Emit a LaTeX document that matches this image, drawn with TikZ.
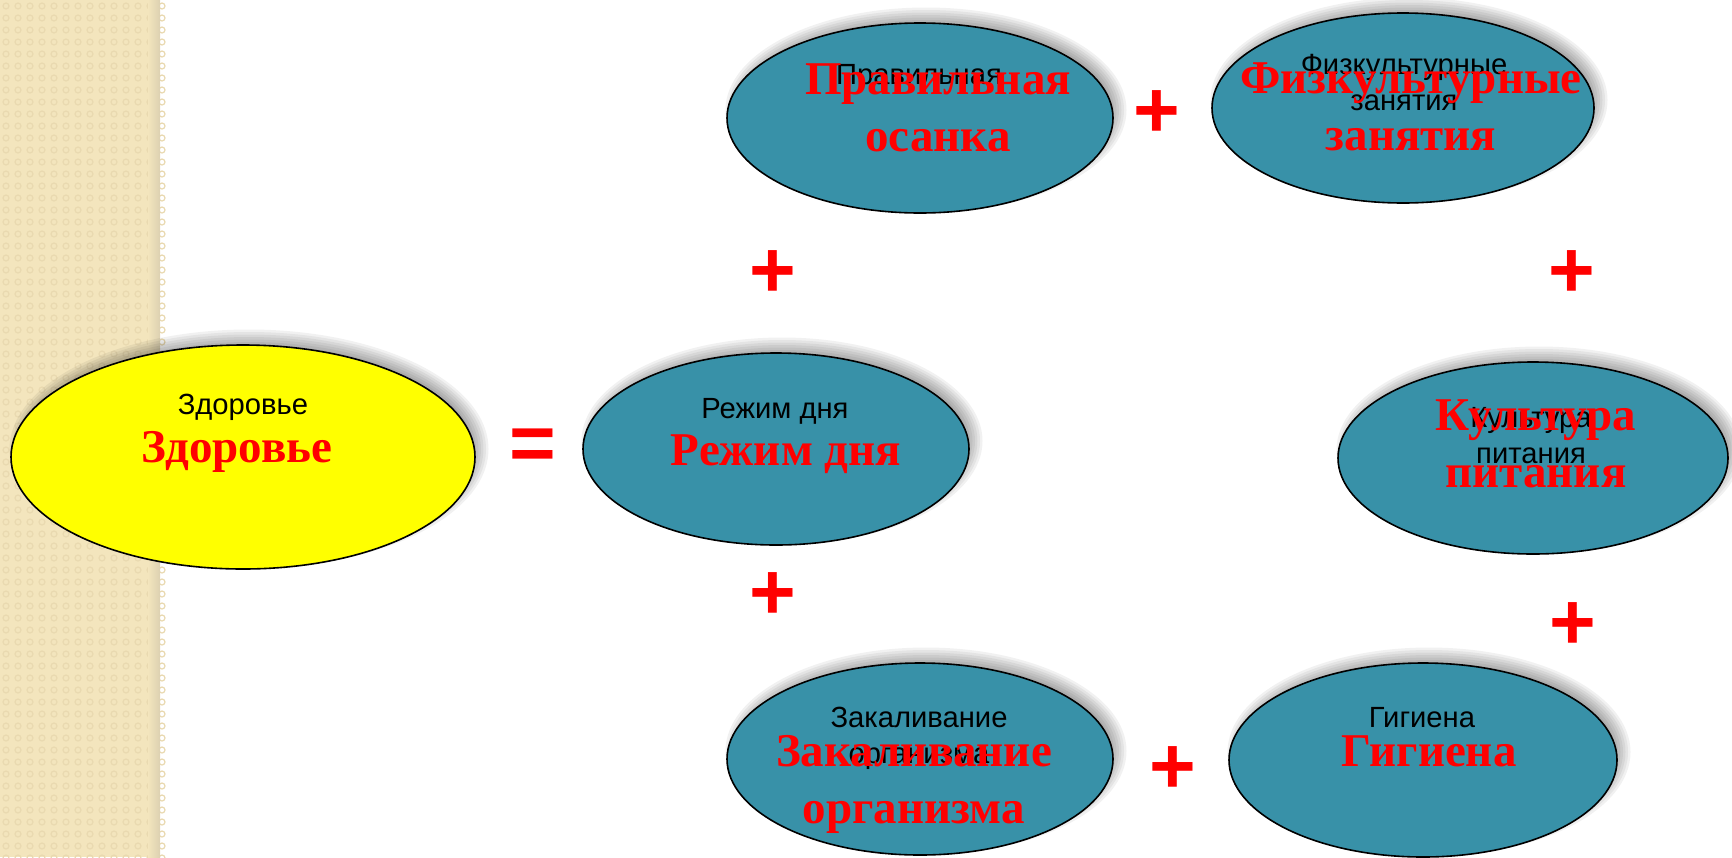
\documentclass[tikz,border=0pt]{standalone}
\usepackage{fontspec}
\setmainfont{Liberation Serif}
\newfontfamily\arialfont{Liberation Sans}
\usetikzlibrary{shapes.geometric}

\definecolor{ovalteal}{RGB}{56,145,168}
\definecolor{stripbeige}{RGB}{243,229,189}
\definecolor{stripdot}{RGB}{233,217,176}
\definecolor{ovalyellow}{RGB}{255,255,0}

\tikzset{
  oval/.style={ellipse, draw=black, line width=0.8pt, inner sep=0pt, fill=ovalteal},
  plaintext/.style={anchor=north, inner sep=0pt, align=center,
    font=\arialfont\fontsize{14.6}{17.75}\selectfont},
  redtext/.style={anchor=north, inner sep=0pt, align=center, text=red,
    font=\bfseries\fontsize{23.5}{28.5}\selectfont},
  sign/.style={inner sep=0pt, text=red, font=\arialfont\bfseries\fontsize{40}{40}\selectfont}
}

% soft shadow up and to the right of an oval: x, y, half width, half height
\newcommand\ovalshadow[4]{%
  \foreach \s in {1,...,8}
    \fill[black, opacity=0.055] ({#1+6},{#2-8}) ellipse ({#3+10-2.5*\s} and {#4+10-2.5*\s});
}

\begin{document}
\begin{tikzpicture}[x=0.5pt, y=-0.5pt]
\useasboundingbox (0,0) rectangle (1732,857);

% textured strip
\fill[stripbeige] (0,0) rectangle (160,857);
\foreach \i in {0,...,13}
  \foreach \j in {0,...,71}
    \draw[stripdot, line width=0.6pt] (6+12*\i, 6+12*\j) circle (3);
\shade[left color=stripbeige, right color=stripbeige!80!gray] (148,0) rectangle (160,857);

% shadows
\ovalshadow{243}{457}{232}{112}
\ovalshadow{776}{449}{193}{96}
\ovalshadow{920}{118}{193}{95}
\ovalshadow{1403}{108}{191}{95}
\ovalshadow{1533}{458}{195}{96}
\ovalshadow{920}{759}{193}{96}
\ovalshadow{1423}{760}{194}{97}

% ovals
\node[oval, fill=ovalyellow, minimum width=232pt, minimum height=112pt] (health) at (243,457) {};
\node[oval, minimum width=193pt, minimum height=96pt] (routine) at (776,449) {};
\node[oval, minimum width=193pt, minimum height=95pt] (posture) at (920,118) {};
\node[oval, minimum width=191pt, minimum height=95pt] (sport) at (1403,108) {};
\node[oval, minimum width=195pt, minimum height=96pt] (food) at (1533,458) {};
\node[oval, minimum width=193pt, minimum height=96pt] (harden) at (920,759) {};
\node[oval, minimum width=194pt, minimum height=97pt] (hygiene) at (1423,760) {};

% black captions
\node[plaintext] (health-b) at (243,394) {Здоровье};
\node[plaintext] (routine-b) at (775,398) {Режим дня};
\node[plaintext] (posture-b) at (919,64) {Правильная};
\node[plaintext] (sport-b) at (1404,54) {Физкультурные\\занятия};
\node[plaintext] (food-b) at (1531,407) {Культура\\питания};
\node[plaintext] (harden-b) at (919,707) {Закаливание\\организма};
\node[plaintext] (hygiene-b) at (1422,707) {Гигиена};

% red captions
\node[redtext] (health-r) at (237,431) {Здоровье};
\node[redtext] (routine-r) at (786,434) {Режим дня};
\node[redtext] (posture-r) at (938,63) {Правильная\\осанка};
\node[redtext] (sport-r) at (1411,62) {Физкультурные\\занятия};
\node[redtext] (food-r) at (1536,399) {Культура\\питания};
\node[redtext] (harden-r) at (914,735) {Закаливание\\организма};
\node[redtext] (hygiene-r) at (1429,735) {Гигиена};

% signs
\node[sign] (eq) at (533,450) {=};
\node[sign] (p1) at (1157,114) {+};
\node[sign] (p2) at (773,274) {+};
\node[sign] (p3) at (1572,274) {+};
\node[sign] (p4) at (773,596) {+};
\node[sign] (p5) at (1573,626) {+};
\node[sign] (p6) at (1173,770) {+};
\end{tikzpicture}
\end{document}
